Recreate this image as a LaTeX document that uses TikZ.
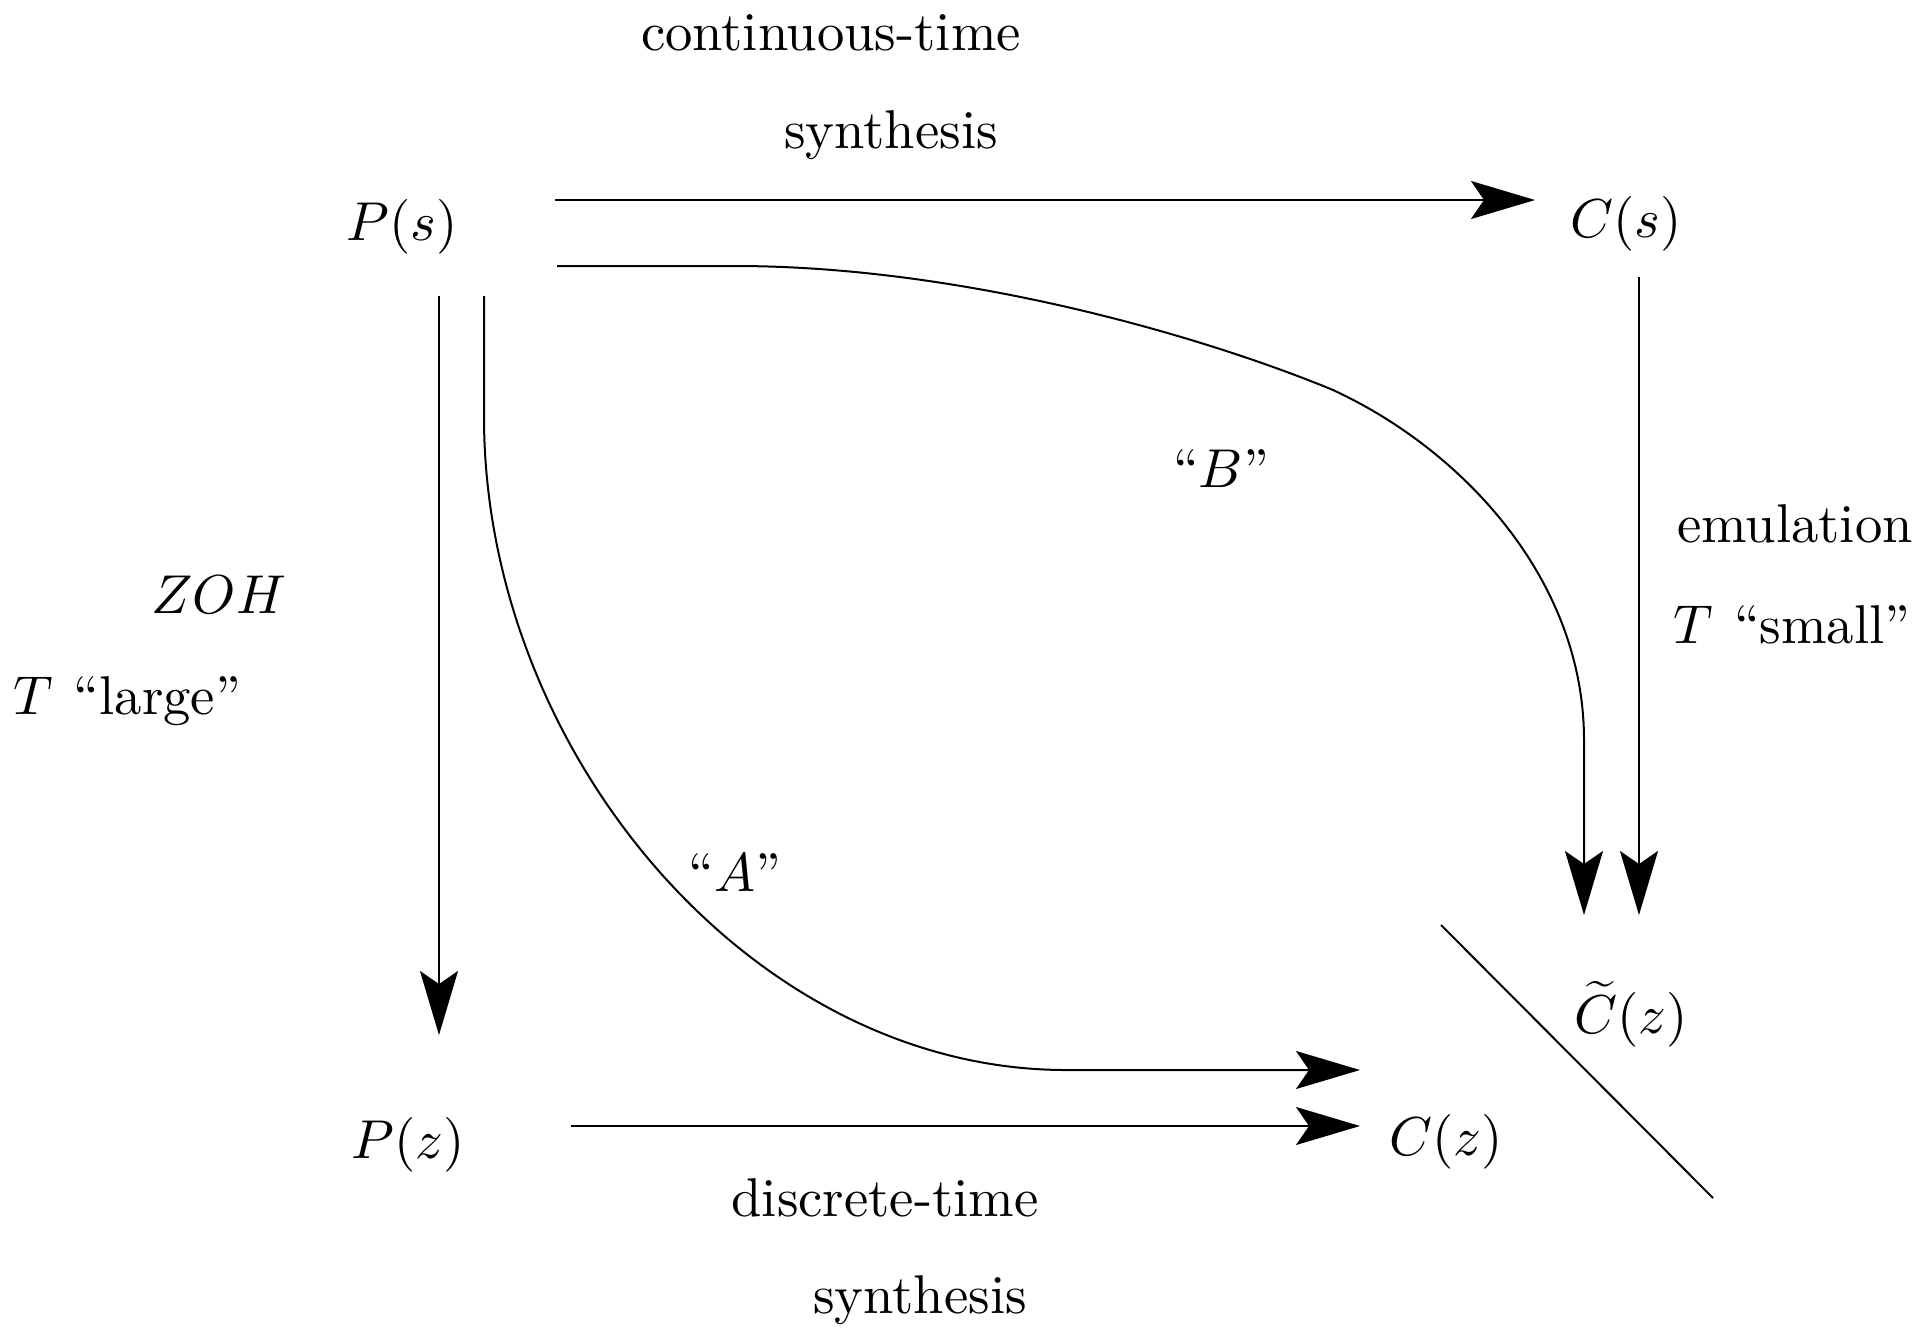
\documentclass[tikz,border=0pt]{standalone}
\usetikzlibrary{arrows.meta}
\begin{document}
\begin{tikzpicture}[x=0.2pt,y=-0.2pt,
  lbl/.style={inner sep=0pt,font=\fontsize{10.93}{13}\selectfont},
  conn/.style={line width=0.4pt,-{Stealth[length=12.8pt,width=7.6pt,inset=2.6pt]}},
  plain/.style={line width=0.4pt}]
\useasboundingbox (0,0) rectangle (1921,1334);
% texts
\node[lbl] (t1) at (831,33) {continuous-time};
\node[lbl] (t2) at (891,135) {synthesis};
\node[lbl] (Ps) at (402,227) {$P(s)$};
\node[lbl] (Cs) at (1626,224) {$C(s)$};
\node[lbl] (B) at (1221,469) {``$B$''};
\node[lbl] (em) at (1795,524) {emulation};
\node[lbl] (ts) at (1792,625) {$T$\hspace{4.2pt}``small''};
\node[lbl] (zoh) at (219,595) {$ZOH$};
\node[lbl] (tl) at (127,701) {$T$\hspace{4.2pt}``large''};
\node[lbl] (A) at (735,873) {``$A$''};
\node[lbl] (Ct) at (1631,1014) {$\widetilde{C}(z)$};
\node[lbl] (Pz) at (408,1145) {$P(z)$};
\node[lbl] (Cz) at (1446,1142) {$C(z)$};
\node[lbl] (d1) at (885,1198) {discrete-time};
\node[lbl] (d2) at (920,1300) {synthesis};
% coordinates
\coordinate (a1s) at (555,200); \coordinate (a1e) at (1535,200);
\coordinate (bs) at (557,266); \coordinate (be) at (1584,915);
\coordinate (cs) at (1639,277); \coordinate (ce) at (1639,915);
\coordinate (ls) at (439,296); \coordinate (le) at (439,1035);
\coordinate (as) at (484,296); \coordinate (ae) at (1360,1070);
\coordinate (bts) at (571,1126); \coordinate (bte) at (1360,1126);
\coordinate (ds) at (1441,925); \coordinate (de) at (1713,1198);
% connectors
\draw[conn] (a1s) -- (a1e);
\draw[conn] (bs) -- (735,266) .. controls (960,266) and (1200,335) .. (1333,390)
  .. controls (1463,450) and (1584,580) .. (1584,740) -- (be);
\draw[conn] (cs) -- (ce);
\draw[conn] (ls) -- (le);
\draw[conn] (as) -- (484,417) .. controls (484,750) and (750,1070) .. (1066,1070) -- (ae);
\draw[conn] (bts) -- (bte);
\draw[plain] (ds) -- (de);
\end{tikzpicture}
\end{document}
